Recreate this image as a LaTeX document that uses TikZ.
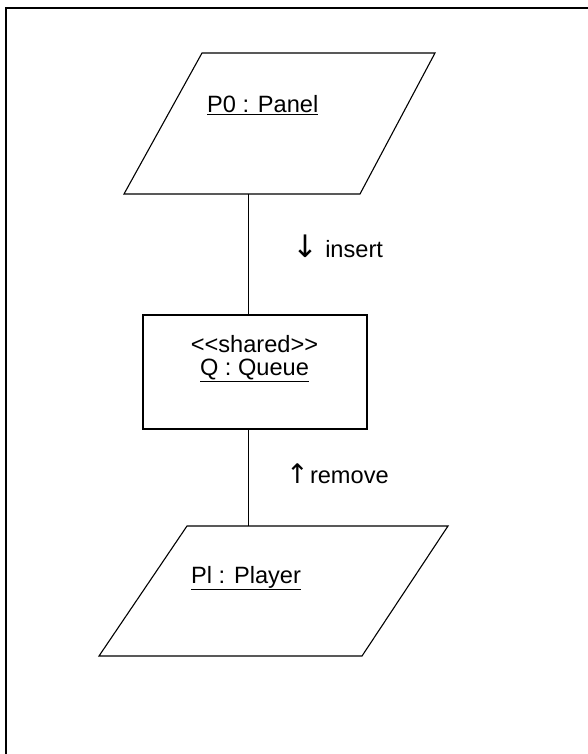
\documentclass[tikz,border=0pt]{standalone}
\usepackage{fontspec}
\setmainfont{Liberation Sans}
\newfontfamily\arrowfont{DejaVu Sans}
\begin{document}
\begin{tikzpicture}[x=1pt,y=-1pt,
  shapeline/.style={line width=1.1pt, line join=miter},
  lbl/.style={inner sep=0pt, font=\fontsize{23.6}{28}\selectfont},
  arr/.style={inner sep=0pt, font=\arrowfont\fontsize{31}{34}\selectfont},
  conn/.style={line width=1.1pt}]
\useasboundingbox (0,0) rectangle (587,754);
% frame
\draw[line width=2pt] (6,755) -- (6,8) -- (588,8);
% top parallelogram
\draw[shapeline] (202,53) -- (435,53) -- (360,194) -- (124,194) -- cycle;
\coordinate (p0b) at (248.5,194);
\node[lbl, anchor=base west] (p0) at (207,113) {\underline{P0 : Panel}};
% queue box
\node[draw, shapeline, minimum width=224pt, minimum height=114pt, inner sep=0pt] (q) at (255,372) {};
\node[lbl, anchor=base] (qs) at (254.5,352) {<{}<shared>{}>};
\node[lbl, anchor=base] (qn) at (254.5,375) {\underline{Q : Queue}};
% bottom parallelogram
\draw[shapeline] (187,526) -- (448,526) -- (362,656) -- (99,656) -- cycle;
\coordinate (plt) at (248.5,526);
\node[lbl, anchor=base west] (pl) at (191,583) {\underline{Pl : Player}};
% connectors
\draw[conn] (p0b) -- (q.north -| p0b);
\draw[conn] (q.south -| plt) -- (plt);
% labels
\node[lbl, anchor=base west] (ins) at (292,257) {{\arrowfont\fontsize{31}{34}\selectfont ↓}\hspace{0.3em}insert};
\node[lbl, anchor=base west] (rem) at (286,483) {{\arrowfont\fontsize{27}{30}\selectfont ↑}\hspace{0.05em}remove};
\end{tikzpicture}
\end{document}
